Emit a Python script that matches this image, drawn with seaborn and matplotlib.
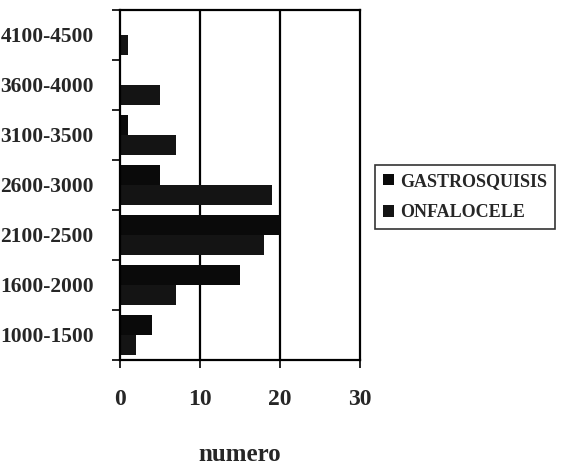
import numpy as np
import pandas as pd
import matplotlib
matplotlib.use("Agg")
import matplotlib.pyplot as plt
import seaborn as sns
from matplotlib.ticker import FixedLocator

# Birth-weight ranges (grams), listed top to bottom as drawn
rangos = ["4100-4500", "3600-4000", "3100-3500", "2600-3000",
          "2100-2500", "1600-2000", "1000-1500"]
gastrosquisis = [0, 0, 1, 5, 20, 15, 4]
onfalocele = [1, 5, 7, 19, 18, 7, 2]
series = ["GASTROSQUISIS", "ONFALOCELE"]
x_ticks = [0, 10, 20, 30]

df = pd.DataFrame({
    "rango": rangos * 2,
    "numero": gastrosquisis + onfalocele,
    "grupo": [series[0]] * len(rangos) + [series[1]] * len(rangos),
})

sns.set_style("white")
plt.rcParams["font.family"] = ["Liberation Serif", "DejaVu Serif"]
plt.rcParams["font.weight"] = "bold"

fig = plt.figure(figsize=(5.63, 4.71), dpi=100)
ax = fig.add_axes([0.213, 0.236, 0.426, 0.743])

sns.barplot(data=df, y="rango", x="numero", hue="grupo", order=rangos,
            hue_order=series, palette=["#0a0a0a", "#141414"], orient="h",
            width=0.8, saturation=1, edgecolor="none", linewidth=0, ax=ax)

ax.set_xlim(0, 30)
ax.set_ylim(len(rangos) - 0.5, -0.5)
ax.set_xticks(x_ticks)
ax.set_xticklabels([str(t) for t in x_ticks], fontsize=17, fontweight="bold")
ax.tick_params(axis="x", direction="out", length=6, width=1.2, pad=15,
               color="black", bottom=True)

# category labels at band centres, tick marks at band boundaries
ax.set_yticks(range(len(rangos)))
ax.set_yticklabels(rangos, fontsize=15.5, fontweight="bold")
ax.tick_params(axis="y", which="major", length=0, pad=19)
ax.yaxis.set_minor_locator(FixedLocator(np.arange(-0.5, len(rangos), 1.0)))
ax.tick_params(axis="y", which="minor", direction="out", length=6,
               width=1.2, color="black", left=True)

for v in x_ticks[1:-1]:
    ax.axvline(v, color="black", lw=1.6, zorder=0)

for s in ax.spines.values():
    s.set_visible(True)
    s.set_color("black")
    s.set_linewidth(1.6)

ax.set_ylabel("")
ax.set_xlabel("numero", fontsize=18, fontweight="bold", labelpad=24)

leg = ax.legend(loc="center left", bbox_to_anchor=(1.05, 0.465),
                frameon=True, fancybox=False, edgecolor="black",
                handlelength=0.6, handleheight=0.6, handletextpad=0.3,
                borderpad=0.45, borderaxespad=0.2, labelspacing=0.8,
                prop={"family": "Liberation Serif", "weight": "bold",
                      "size": 13})
leg.get_frame().set_linewidth(1.2)

fig.savefig("out.png", dpi=100)
